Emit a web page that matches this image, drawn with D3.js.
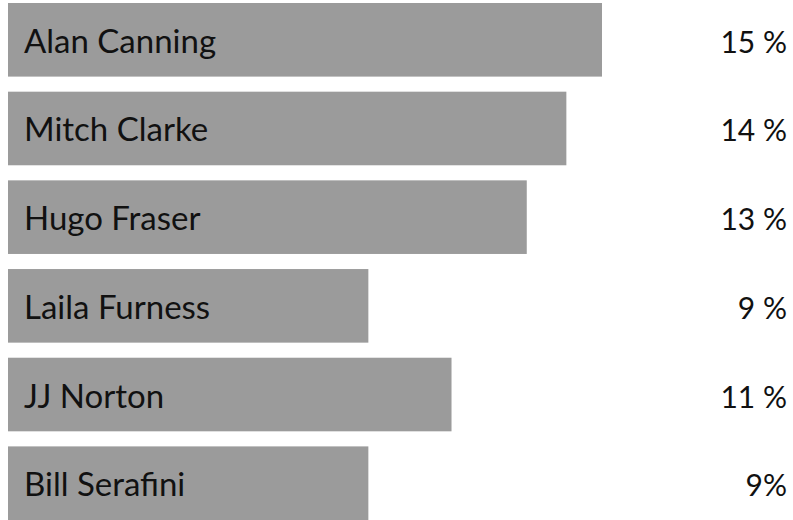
<!DOCTYPE html>
<html>
<head>
<meta charset="utf-8">
<script src="https://cdn.jsdelivr.net/npm/d3@7"></script>
<style>
  html, body { margin: 0; padding: 0; background: #fff; }
  svg text { font-family: Lato, "Open Sans", sans-serif; fill: #111; }
</style>
</head>
<body>
<div id="chart"></div>
<script>
// names shown inside the bars
var names = ["Alan Canning", "Mitch Clarke", "Hugo Fraser", "Laila Furness", "JJ Norton", "Bill Serafini"];
// bar lengths (percent)
var values = [15, 14.1, 13.1, 9.1, 11.2, 9.1];
// labels printed on the right, as they appear
var pctLabels = ["15 %", "14 %", "13 %", "9 %", "11 %", "9%"];

var width = 793, height = 520;

var svg = d3.select("#chart").append("svg")
    .attr("width", width)
    .attr("height", height);

var x = d3.scaleLinear()
    .domain([0, 15])
    .range([8, 602]);

var y = d3.scaleBand()
    .domain(names)
    .range([3, 520])
    .paddingInner(0.17)
    .paddingOuter(0);

var rows = svg.selectAll("g.row")
    .data(names)
    .enter().append("g")
    .attr("class", "row")
    .attr("transform", function (d) { return "translate(0," + y(d) + ")"; });

rows.append("rect")
    .attr("x", x(0))
    .attr("width", function (d, i) { return x(values[i]) - x(0); })
    .attr("height", y.bandwidth())
    .attr("fill", "#9b9b9b");

rows.append("text")
    .attr("x", 24)
    .attr("y", y.bandwidth() / 2 + 13)
    .attr("font-size", 33)
    .text(function (d) { return d; });

rows.append("text")
    .attr("x", 787)
    .attr("y", y.bandwidth() / 2 + 13)
    .attr("text-anchor", "end")
    .attr("font-size", 30)
    .text(function (d, i) { return pctLabels[i]; });
</script>
</body>
</html>
